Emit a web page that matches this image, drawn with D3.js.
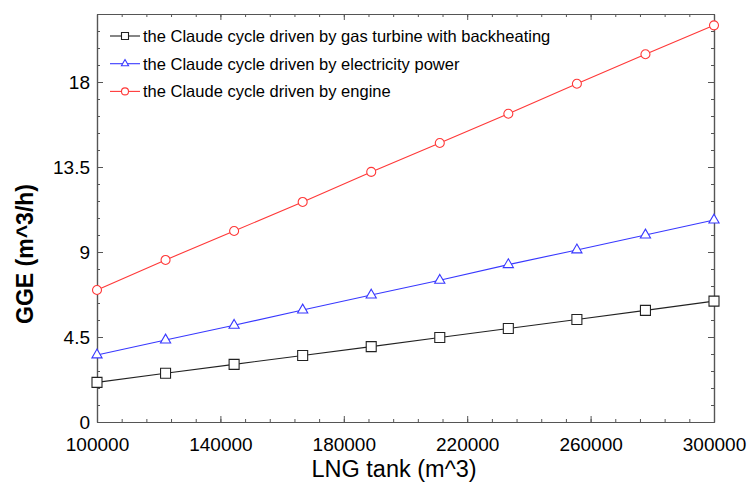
<!DOCTYPE html>
<html>
<head>
<meta charset="utf-8">
<script src="https://cdn.jsdelivr.net/npm/d3@7"></script>
<style>
  html, body { margin: 0; padding: 0; background: #fff; }
  svg { display: block; font-family: "Liberation Sans", Arial, sans-serif; }
</style>
</head>
<body>
<div id="chart"></div>
<script>
(function () {
  'use strict';

  // data
  var tankSizes = [100000, 122222, 144444, 166667, 188889, 211111, 233333, 255556, 277778, 300000];
  var gasTurbine = [2.10, 2.58, 3.05, 3.52, 3.99, 4.47, 4.95, 5.43, 5.91, 6.40];
  var electricity = [3.55, 4.34, 5.12, 5.93, 6.72, 7.50, 8.33, 9.11, 9.90, 10.69];
  var engine = [6.99, 8.58, 10.11, 11.65, 13.24, 14.77, 16.32, 17.91, 19.47, 21.00];
  var seriesNames = [
    'the Claude cycle driven by gas turbine with backheating',
    'the Claude cycle driven by electricity power',
    'the Claude cycle driven by engine'
  ];
  var xTicks = [100000, 140000, 180000, 220000, 260000, 300000];
  var yTicks = [0, 4.5, 9, 13.5, 18];

  var width = 750, height = 486;
  var margin = { left: 97, right: 36, top: 14, bottom: 64 };

  var svg = d3.select('#chart').append('svg')
    .attr('width', width)
    .attr('height', height);

  var x = d3.scaleLinear().domain([100000, 300000]).range([margin.left, width - margin.right]);
  var y = d3.scaleLinear().domain([0, 21.6]).range([height - margin.bottom, margin.top]);

  var axisColor = '#555';

  // minor ticks: 5 intervals per major step
  var xMinor = d3.range(100000, 300001, 8000);
  var yMinor = d3.range(0, 21.61, 0.9);

  function styleAxis(g) {
    g.select('.domain').attr('stroke', axisColor).attr('stroke-width', 1.2);
    g.selectAll('.tick line').attr('stroke', axisColor).attr('stroke-width', 1);
  }
  function styleLabels(g) {
    g.selectAll('text').attr('font-size', 19).attr('fill', '#000')
      .attr('font-family', '"Liberation Sans", Arial, sans-serif');
  }

  var x0 = height - margin.bottom, y0 = margin.top;
  var xl = margin.left, xr = width - margin.right;

  // bottom axis (ticks inward)
  svg.append('g').attr('transform', 'translate(0,' + x0 + ')')
    .call(d3.axisBottom(x).tickValues(xMinor).tickSizeInner(-3).tickSizeOuter(0).tickFormat(''))
    .call(styleAxis);
  svg.append('g').attr('transform', 'translate(0,' + x0 + ')')
    .call(d3.axisBottom(x).tickValues(xTicks).tickSizeInner(-6).tickSizeOuter(0).tickPadding(16).tickFormat(d3.format('d')))
    .call(styleAxis)
    .call(styleLabels);

  // top axis
  svg.append('g').attr('transform', 'translate(0,' + y0 + ')')
    .call(d3.axisTop(x).tickValues(xMinor).tickSizeInner(-3).tickSizeOuter(0).tickFormat(''))
    .call(styleAxis);
  svg.append('g').attr('transform', 'translate(0,' + y0 + ')')
    .call(d3.axisTop(x).tickValues(xTicks).tickSizeInner(-6).tickSizeOuter(0).tickFormat(''))
    .call(styleAxis);

  // left axis
  svg.append('g').attr('transform', 'translate(' + xl + ',0)')
    .call(d3.axisLeft(y).tickValues(yMinor).tickSizeInner(-3).tickSizeOuter(0).tickFormat(''))
    .call(styleAxis);
  svg.append('g').attr('transform', 'translate(' + xl + ',0)')
    .call(d3.axisLeft(y).tickValues(yTicks).tickSizeInner(-6).tickSizeOuter(0).tickPadding(7).tickFormat(function (d) { return String(d); }))
    .call(styleAxis)
    .call(styleLabels);

  // right axis
  svg.append('g').attr('transform', 'translate(' + xr + ',0)')
    .call(d3.axisRight(y).tickValues(yMinor).tickSizeInner(-3).tickSizeOuter(0).tickFormat(''))
    .call(styleAxis);
  svg.append('g').attr('transform', 'translate(' + xr + ',0)')
    .call(d3.axisRight(y).tickValues(yTicks).tickSizeInner(-6).tickSizeOuter(0).tickFormat(''))
    .call(styleAxis);

  // axis titles
  svg.append('text')
    .attr('x', 394)
    .attr('y', 477)
    .attr('text-anchor', 'middle')
    .attr('font-size', 23.5)
    .text('LNG tank (m^3)');

  svg.append('text')
    .attr('transform', 'translate(33,254) rotate(-90)')
    .attr('text-anchor', 'middle')
    .attr('font-size', 23)
    .attr('font-weight', 'bold')
    .text('GGE (m^3/h)');

  var series = [
    { name: seriesNames[0], values: gasTurbine, color: '#222', marker: 'square' },
    { name: seriesNames[1], values: electricity, color: '#3838ff', marker: 'triangle' },
    { name: seriesNames[2], values: engine, color: '#ff3838', marker: 'circle' }
  ];

  var line = d3.line()
    .x(function (d) { return x(d[0]); })
    .y(function (d) { return y(d[1]); });

  function drawMarker(g, type, color, size) {
    var sym = type === 'square' ? d3.symbolSquare : (type === 'triangle' ? d3.symbolTriangle : d3.symbolCircle);
    var area = type === 'square' ? size * size : (type === 'triangle' ? size * size * 0.45 : Math.PI * size * size / 4);
    g.append('path')
      .attr('d', d3.symbol().type(sym).size(area)())
      .attr('fill', '#fff')
      .attr('stroke', color)
      .attr('stroke-width', 1.1);
  }

  var plot = svg.append('g');
  series.forEach(function (s) {
    var pts = tankSizes.map(function (t, i) { return [t, s.values[i]]; });
    plot.append('path')
      .datum(pts)
      .attr('fill', 'none')
      .attr('stroke', s.color)
      .attr('stroke-width', 1.1)
      .attr('d', line);
    plot.selectAll(null)
      .data(pts)
      .join('g')
      .attr('transform', function (d) { return 'translate(' + x(d[0]) + ',' + y(d[1]) + ')'; })
      .each(function () { drawMarker(d3.select(this), s.marker, s.color, s.marker === 'circle' ? 9 : 10); });
  });

  // legend
  var legend = svg.append('g');
  series.forEach(function (s, i) {
    var ly = 36 + i * 27.7;
    legend.append('line')
      .attr('x1', 110).attr('x2', 140)
      .attr('y1', ly).attr('y2', ly)
      .attr('stroke', s.color).attr('stroke-width', 1.1);
    var m = legend.append('g').attr('transform', 'translate(125,' + ly + ')');
    drawMarker(m, s.marker, s.color, 7);
    legend.append('text')
      .attr('x', 143)
      .attr('y', ly + 6)
      .attr('font-size', 16.5)
      .text(s.name);
  });
})();
</script>
</body>
</html>
